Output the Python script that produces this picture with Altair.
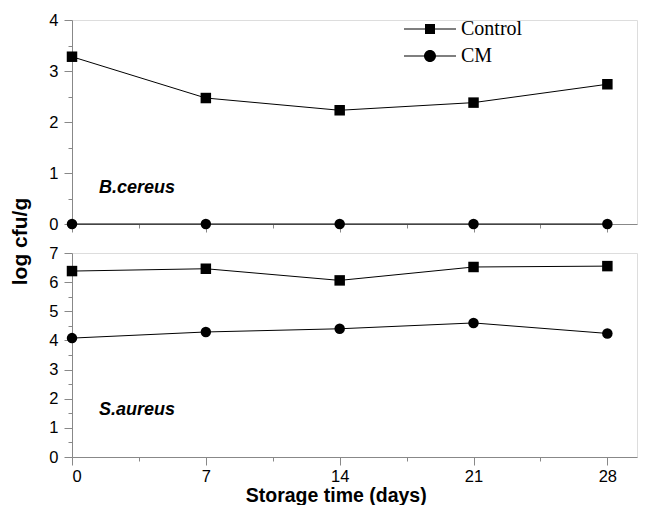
import altair as alt
import pandas as pd

# ---- data ----
days = [0, 7, 14, 21, 28]
series_names = ["Control", "CM"]
bc_control = [3.28, 2.47, 2.23, 2.38, 2.74]
bc_cm = [0.0, 0.0, 0.0, 0.0, 0.0]
sa_control = [6.38, 6.46, 6.06, 6.52, 6.55]
sa_cm = [4.08, 4.29, 4.40, 4.60, 4.24]
organisms = ["B.cereus", "S.aureus"]
x_ticks = [0, 3.5, 7, 10.5, 14, 17.5, 21, 24.5, 28]
top_y_ticks = [0, 0.5, 1, 1.5, 2, 2.5, 3, 3.5, 4]
bot_y_ticks = [0, 0.5, 1, 1.5, 2, 2.5, 3, 3.5, 4, 4.5, 5, 5.5, 6, 6.5, 7]
x_title = "Storage time (days)"
y_title = "log cfu/g"

FONT = "Liberation Sans"
SERIF = "Liberation Serif"


def make_df(control, cm):
    return pd.DataFrame({
        "day": days + days,
        "value": control + cm,
        "series": [series_names[0]] * len(days) + [series_names[1]] * len(days),
    })


top_df = make_df(bc_control, bc_cm)
bot_df = make_df(sa_control, sa_cm)

W = 565
H_TOP = 204
H_BOT = 204
GAP = 29
x_scale = alt.Scale(domain=[0, 29.55], nice=False, zero=False)

major_x = {"condition": {"test": "datum.value % 7 === 0", "value": 8}, "value": 4}
major_y = {"condition": {"test": "datum.value % 1 === 0", "value": 8}, "value": 4}


def x_axis(show_labels, title=None):
    kw = dict(values=x_ticks, tickSize=major_x, grid=False, labels=show_labels,
              labelExpr="datum.value % 7 === 0 ? format(datum.value, 'd') : ''",
              labelFontSize=16.5, labelPadding=3)
    if title is not None:
        kw.update(title=title, titleX=263.7, titleY=44, titleAlign="center",
                  titleBaseline="alphabetic", titleFontSize=19.5, titleFontWeight="bold")
    else:
        kw.update(title=None)
    return alt.Axis(**kw)


def y_axis(values, title=None):
    kw = dict(values=values, tickSize=major_y, grid=False,
              labelExpr="datum.value % 1 === 0 ? format(datum.value, 'd') : ''",
              labelFontSize=16.5, labelPadding=6)
    if title is not None:
        kw.update(title=title, titleX=-45.5, titleY=221, titleAngle=270,
                  titleAlign="center", titleBaseline="alphabetic",
                  titleFontSize=21, titleFontWeight="bold")
    else:
        kw.update(title=None)
    return alt.Axis(**kw)


def panel(df, ydomain, yvalues, ytitle, xlab, xtitle, org, text_y, height, with_legend):
    base = alt.Chart(df)
    x = alt.X("day:Q", scale=x_scale, axis=x_axis(xlab, xtitle))
    y = alt.Y("value:Q", scale=alt.Scale(domain=ydomain, nice=False, zero=False),
              axis=y_axis(yvalues, ytitle))
    lines = base.mark_line(color="black", strokeWidth=1).encode(x=x, y=y, detail="series:N")
    squares = base.transform_filter(alt.datum.series == series_names[0]).mark_point(
        shape="square", filled=True, color="black", size=110, opacity=1).encode(x=x, y=y)
    circles = base.transform_filter(alt.datum.series == series_names[1]).mark_point(
        shape="circle", filled=True, color="black", size=110, opacity=1).encode(x=x, y=y)
    label = alt.Chart(pd.DataFrame({"org": [org]})).mark_text(
        align="left", baseline="alphabetic", font=FONT, fontSize=18,
        fontStyle="italic", fontWeight="bold", color="black"
    ).encode(x=alt.value(27), y=alt.value(text_y), text="org:N")
    layers = [lines, squares, circles, label]
    if with_legend:
        sq_path = "M-5.2,-0.1H5.2V0.1H-5.2Z M-1,-1H1V1H-1Z"
        ci_path = ("M-5.2,-0.1H5.2V0.1H-5.2Z M-1.2,0A1.2,1.2,0,1,1,1.2,0"
                   "A1.2,1.2,0,1,1,-1.2,0Z")
        leg = base.mark_point(filled=True, color="black", opacity=0).encode(
            x=x, y=y,
            shape=alt.Shape("series:N",
                            scale=alt.Scale(domain=series_names, range=[sq_path, ci_path]),
                            legend=alt.Legend(
                                title=None, orient="none", legendX=348, legendY=-1,
                                direction="vertical", symbolSize=100,
                                symbolFillColor="black", symbolStrokeColor="black",
                                symbolStrokeWidth=0, symbolOpacity=1,
                                labelFont=SERIF, labelFontSize=20, labelColor="black",
                                labelOffset=21, rowPadding=7, padding=0,
                                labelBaseline="middle")),
        )
        layers.append(leg)
    return alt.layer(*layers).properties(width=W, height=height)


top = panel(top_df, [0, 4], top_y_ticks, y_title, False, None, organisms[0], 172.6, H_TOP, True)
bottom = panel(bot_df, [0, 7], bot_y_ticks, None, True, x_title, organisms[1], 161.7, H_BOT, False)

chart = alt.vconcat(top, bottom, spacing=GAP, bounds="flush").resolve_scale(
    shape="independent"
).properties(
    padding={"left": 1, "top": 3, "right": 0, "bottom": 0}
).configure_view(stroke=None).configure_axis(
    domainColor="black", domainWidth=1.5, tickColor="black", tickWidth=1.5,
    labelColor="black", titleColor="black", labelFont=FONT, titleFont=FONT,
).configure(background="white")

chart.save("out.html", embed_options={"renderer": "svg", "actions": False})
